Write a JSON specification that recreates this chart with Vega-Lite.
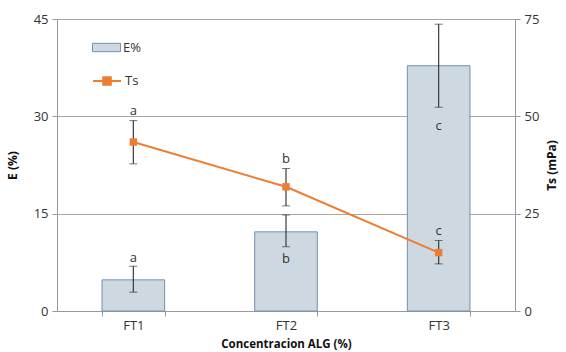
{
  "$schema": "https://vega.github.io/schema/vega-lite/v6.json",
  "width": 458,
  "height": 292,
  "autosize": "none",
  "padding": {"left": 57, "top": 19, "right": 51, "bottom": 41},
  "background": "white",
  "config": {
    "font": "Open Sans",
    "view": {"stroke": null},
    "axis": {"labelFont": "Open Sans", "labelFontSize": 13, "labelColor": "#333333", "titleFont": "Open Sans", "titleFontSize": 12, "titleFontWeight": "bold", "titleColor": "#111111", "domainColor": "#999999", "tickColor": "#999999", "gridColor": "#a6a6a6"}
  },
  "data": {
    "values": [
      {"cat": "FT1", "E": 4.8, "E_lo": 2.9, "E_hi": 6.9, "E_lab": "a", "Ts": 43.4, "Ts_lo": 37.8, "Ts_hi": 48.9, "Ts_lab": "a"},
      {"cat": "FT2", "E": 12.2, "E_lo": 9.9, "E_hi": 14.8, "E_lab": "b", "Ts": 31.9, "Ts_lo": 27.0, "Ts_hi": 36.6, "Ts_lab": "b"},
      {"cat": "FT3", "E": 37.8, "E_lo": 31.4, "E_hi": 44.2, "E_lab": "c", "Ts": 15.0, "Ts_lo": 12.1, "Ts_hi": 18.1, "Ts_lab": "c"}
    ]
  },
  "encoding": {
    "x": {
      "field": "cat", "type": "nominal",
      "scale": {"paddingInner": 0.59, "paddingOuter": 0.295},
      "axis": {"title": "Concentracion ALG (%)", "labelAngle": 0, "tickBand": "extent", "tickSize": 5, "labelPadding": 3, "titlePadding": 6, "titleFontSize": 11.5, "domainColor": "#999999"}
    }
  },
  "layer": [
    {
      "encoding": {
        "y": {"type": "quantitative", "scale": {"domain": [0, 45], "nice": false}, "axis": {"title": "E (%)", "values": [0, 15, 30, 45], "grid": true, "tickSize": 5, "labelPadding": 4, "titlePadding": 14, "domain": true}}
      },
      "layer": [
        {
          "mark": {"type": "bar", "stroke": "#7190ad", "strokeWidth": 1},
          "encoding": {
            "y": {"field": "E"},
            "fill": {"datum": "E%", "type": "nominal", "scale": {"domain": ["E%"], "range": ["#cdd8e1"]},
              "legend": {"title": null, "orient": "none", "legendX": 35, "legendY": 14, "symbolType": "M-1,-0.3H1V0.3H-1Z", "symbolSize": 784, "symbolStrokeColor": "#7190ad", "symbolStrokeWidth": 1, "labelFont": "Open Sans", "labelFontSize": 13, "labelColor": "#333333", "labelOffset": 2}}
          }
        },
        {
          "mark": {"type": "errorbar", "ticks": {"size": 8, "color": "#3a3a3a"}, "rule": {"color": "#3a3a3a", "strokeWidth": 1.2}},
          "encoding": {"y": {"field": "E_lo", "type": "quantitative"}, "y2": {"field": "E_hi"}}
        },
        {
          "transform": [{"filter": "datum.cat == 'FT1'"}],
          "mark": {"type": "text", "fontSize": 13, "color": "#333333", "baseline": "middle", "dy": -8},
          "encoding": {"y": {"field": "E_hi"}, "text": {"field": "E_lab"}}
        },
        {
          "transform": [{"filter": "datum.cat == 'FT2'"}],
          "mark": {"type": "text", "fontSize": 13, "color": "#333333", "baseline": "middle", "dy": 12},
          "encoding": {"y": {"field": "E_lo"}, "text": {"field": "E_lab"}}
        },
        {
          "transform": [{"filter": "datum.cat == 'FT3'"}],
          "mark": {"type": "text", "fontSize": 13, "color": "#333333", "baseline": "middle", "dy": 19},
          "encoding": {"y": {"field": "E_lo"}, "text": {"field": "E_lab"}}
        }
      ]
    },
    {
      "encoding": {
        "y": {"type": "quantitative", "scale": {"domain": [0, 75], "nice": false}, "axis": {"orient": "right", "title": "Ts (mPa)", "titleAngle": 270, "values": [0, 25, 50, 75], "grid": false, "tickSize": 5, "labelPadding": 4, "titlePadding": 20}}
      },
      "layer": [
        {
          "mark": {"type": "line", "strokeWidth": 2},
          "encoding": {
            "y": {"field": "Ts"},
            "stroke": {"datum": "Ts", "type": "nominal", "scale": {"domain": ["Ts"], "range": ["#ED7D31"]},
              "legend": {"title": null, "orient": "none", "legendX": 35, "legendY": 47, "symbolType": "M-1,0H1M-0.27,-0.27H0.27V0.27H-0.27Z", "symbolSize": 784, "symbolFillColor": "#ED7D31", "symbolStrokeWidth": 2, "labelFont": "Open Sans", "labelFontSize": 13, "labelColor": "#333333", "labelOffset": 3}}
          }
        },
        {
          "mark": {"type": "errorbar", "ticks": {"size": 8, "color": "#3a3a3a"}, "rule": {"color": "#3a3a3a", "strokeWidth": 1.2}},
          "encoding": {"y": {"field": "Ts_lo", "type": "quantitative"}, "y2": {"field": "Ts_hi"}}
        },
        {
          "mark": {"type": "square", "size": 55, "color": "#ED7D31", "opacity": 1},
          "encoding": {"y": {"field": "Ts"}}
        },
        {
          "mark": {"type": "text", "fontSize": 13, "color": "#333333", "baseline": "middle", "dy": -10},
          "encoding": {"y": {"field": "Ts_hi"}, "text": {"field": "Ts_lab"}}
        }
      ]
    }
  ],
  "resolve": {"scale": {"y": "independent"}}
}
